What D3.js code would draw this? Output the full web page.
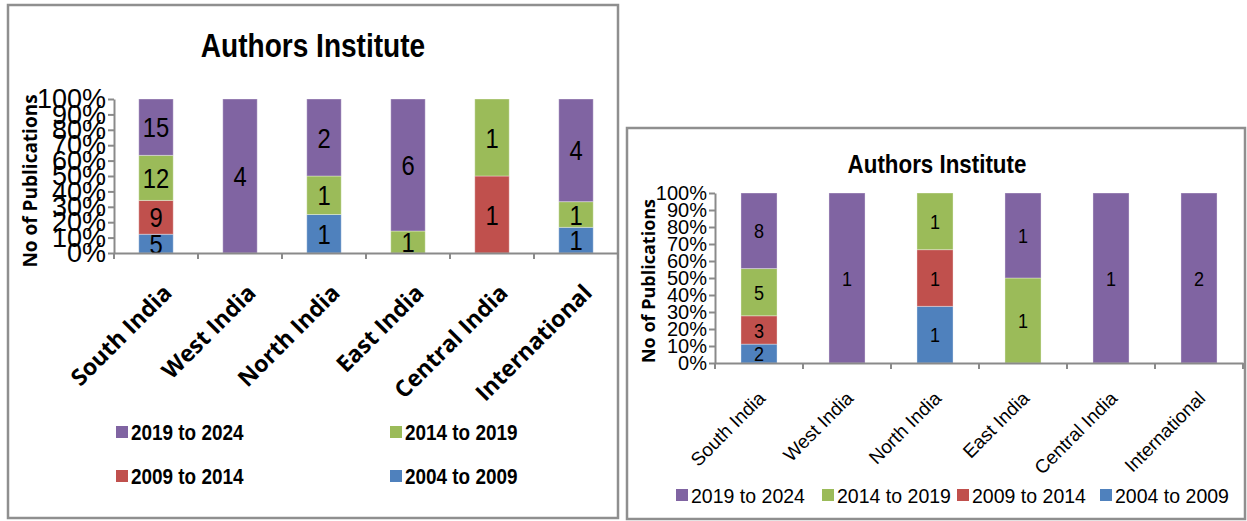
<!DOCTYPE html>
<html>
<head>
<meta charset="utf-8">
<script src="https://cdn.jsdelivr.net/npm/d3@7/dist/d3.min.js"></script>
<style>
  body { margin: 0; background: #fff; }
  svg { display: block; }
</style>
</head>
<body>
<div id="chart"></div>
<script>
// categories and series (bottom of the stack first)
var categories = ["South India", "West India", "North India", "East India", "Central India", "International"];
var periods = ["2004 to 2009", "2009 to 2014", "2014 to 2019", "2019 to 2024"];
var periodColors = ["#4F81BD", "#C0504D", "#9BBB59", "#8064A2"];
var legendOrder = ["2019 to 2024", "2014 to 2019", "2009 to 2014", "2004 to 2009"];
var percentTicks = [0, 0.1, 0.2, 0.3, 0.4, 0.5, 0.6, 0.7, 0.8, 0.9, 1];

// left chart counts
var left2004 = [5, 0, 1, 0, 0, 1];
var left2009 = [9, 0, 0, 0, 1, 0];
var left2014 = [12, 0, 1, 1, 1, 1];
var left2019 = [15, 4, 2, 6, 0, 4];

// right chart counts
var right2004 = [2, 0, 1, 0, 0, 0];
var right2009 = [3, 0, 1, 0, 0, 0];
var right2014 = [5, 0, 1, 1, 0, 0];
var right2019 = [8, 1, 0, 1, 1, 2];

var sans = '"Liberation Sans", Arial, sans-serif';

function buildRows(s1, s2, s3, s4) {
  return categories.map(function(c, i) {
    var row = { cat: c };
    row[periods[0]] = s1[i];
    row[periods[1]] = s2[i];
    row[periods[2]] = s3[i];
    row[periods[3]] = s4[i];
    return row;
  });
}

var svg = d3.select("#chart").append("svg")
    .attr("width", 1247)
    .attr("height", 521);

function drawChart(rows, o) {
  var g = svg.append("g");

  // frame
  g.append("rect")
      .attr("x", o.box[0]).attr("y", o.box[1])
      .attr("width", o.box[2]).attr("height", o.box[3])
      .attr("fill", "#fff")
      .attr("stroke", "#8f8f8f")
      .attr("stroke-width", 2.5);

  // title (squeezed a little, the original face is condensed)
  g.append("text")
      .attr("transform", "translate(" + o.titleX + "," + o.titleY + ") scale(" + o.squeeze + ",1)")
      .attr("text-anchor", "middle")
      .style("font-family", sans)
      .style("font-weight", "bold")
      .style("font-size", o.titleSize + "px")
      .text("Authors Institute");

  var x = d3.scaleBand()
      .domain(categories)
      .range([o.plot[0], o.plot[1]])
      .paddingInner(0.59)
      .paddingOuter(0.295);

  var y = d3.scaleLinear()
      .domain([0, 1])
      .range([o.plot[3], o.plot[2]]);

  var stack = d3.stack()
      .keys(periods)
      .offset(d3.stackOffsetExpand);
  var layers = stack(rows);

  var layer = g.selectAll(".layer")
    .data(layers)
    .enter().append("g")
      .attr("fill", function(d, i) { return periodColors[i]; });

  layer.selectAll("rect")
    .data(function(d) { return d; })
    .enter().append("rect")
      .attr("x", function(d) { return x(d.data.cat); })
      .attr("width", x.bandwidth())
      .attr("y", function(d) { return y(d[1]); })
      .attr("height", function(d) { return y(d[0]) - y(d[1]); })
      .attr("stroke", "rgba(255,255,255,0.35)")
      .attr("stroke-width", 1);

  // value labels
  layers.forEach(function(l) {
    g.selectAll(null)
      .data(l.filter(function(d) { return d.data[l.key] > 0; }))
      .enter().append("text")
        .attr("transform", function(d) {
          var cx = x(d.data.cat) + x.bandwidth() / 2;
          var cy = (y(d[0]) + y(d[1])) / 2;
          return "translate(" + cx + "," + cy + ") scale(" + o.squeeze + ",1)";
        })
        .attr("dy", "0.36em")
        .attr("text-anchor", "middle")
        .style("font-family", sans)
        .style("font-size", o.valueSize + "px")
        .text(function(d) { return d.data[l.key]; });
  });

  // y axis
  var yAxis = g.append("g")
      .attr("transform", "translate(" + o.plot[0] + ",0)")
      .call(d3.axisLeft(y)
        .tickValues(percentTicks)
        .tickFormat(d3.format(".0%"))
        .tickSize(6)
        .tickSizeOuter(0)
        .tickPadding(o.yPad));
  yAxis.selectAll("text")
      .style("font-family", sans)
      .style("font-size", o.yTickSize + "px")
      .attr("fill", "#000");

  // x axis line and ticks between categories
  var xAxis = g.append("g")
      .attr("transform", "translate(0," + o.plot[3] + ")")
      .call(d3.axisBottom(x).tickSize(0).tickFormat(""));
  var edges = d3.range(categories.length + 1).map(function(i) {
    return x.range()[0] + i * x.step();
  });
  xAxis.selectAll(".edge")
    .data(edges)
    .enter().append("line")
      .attr("x1", function(d) { return d; })
      .attr("x2", function(d) { return d; })
      .attr("y1", 0).attr("y2", 6);

  g.selectAll(".domain, line")
      .attr("stroke", "#8a8a8a")
      .attr("stroke-width", 2);

  // category labels
  g.selectAll(".xlab")
    .data(categories)
    .enter().append("text")
      .attr("transform", function(d) {
        return "translate(" + (x(d) + x.bandwidth() / 2 + o.xLabDx) + "," + (o.plot[3] + o.xLabDy) + ") rotate(-45)";
      })
      .attr("text-anchor", "end")
      .attr("dy", "0.7em")
      .style("font-family", o.xLabFont)
      .style("font-weight", o.xLabWeight)
      .style("font-size", o.xLabSize + "px")
      .text(function(d) { return d; });

  // y axis title
  g.append("text")
      .attr("transform", "translate(" + o.yTitleX + "," + o.yTitleY + ") rotate(-90)")
      .attr("text-anchor", "middle")
      .style("font-family", '"Open Sans", sans-serif')
      .style("font-weight", "bold")
      .style("font-size", o.yTitleSize + "px")
      .text("No of Publications");

  // legend
  var item = g.selectAll(".leg")
    .data(legendOrder)
    .enter().append("g")
      .attr("transform", function(d, i) {
        return "translate(" + o.legendPos[i][0] + "," + o.legendPos[i][1] + ")";
      });
  item.append("rect")
      .attr("x", 0).attr("y", -6)
      .attr("width", 12).attr("height", 12)
      .attr("fill", function(d) { return periodColors[periods.indexOf(d)]; });
  item.append("text")
      .attr("transform", "translate(15,0) scale(" + o.legendSqueeze + ",1)")
      .attr("dy", "0.36em")
      .style("font-family", sans)
      .style("font-weight", o.legendWeight)
      .style("font-size", o.legendSize + "px")
      .text(function(d) { return d; });
}

drawChart(buildRows(left2004, left2009, left2014, left2019), {
  box: [8, 5, 610, 513],
  plot: [114, 618, 99, 253],
  squeeze: 0.85,
  titleX: 313, titleY: 57, titleSize: 33,
  valueSize: 28,
  yTickSize: 27, yPad: 2,
  xLabFont: '"Open Sans", sans-serif', xLabWeight: "bold", xLabSize: 23,
  xLabDx: 6, xLabDy: 30,
  yTitleX: 37, yTitleY: 181, yTitleSize: 19,
  legendPos: [[116, 432], [390, 432], [116, 476], [390, 476]],
  legendSize: 22, legendWeight: "bold", legendSqueeze: 0.86
});

drawChart(buildRows(right2004, right2009, right2014, right2019), {
  box: [627, 128, 618, 391],
  plot: [715, 1243, 193, 363],
  squeeze: 0.86,
  titleX: 937, titleY: 173, titleSize: 26,
  valueSize: 21,
  yTickSize: 20, yPad: 2,
  xLabFont: sans, xLabWeight: "normal", xLabSize: 19,
  xLabDx: -2, xLabDy: 27,
  yTitleX: 655, yTitleY: 281, yTitleSize: 18,
  legendPos: [[676, 495], [822, 495], [957, 495], [1100, 495]],
  legendSize: 21, legendWeight: "normal", legendSqueeze: 0.93
});
</script>
</body>
</html>
